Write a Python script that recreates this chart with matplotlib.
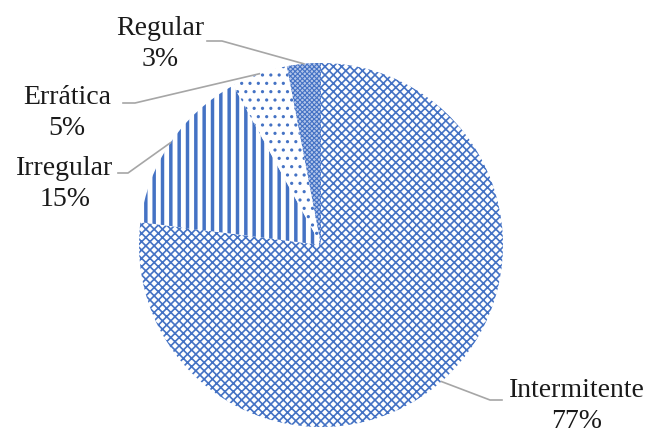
import numpy as np
import matplotlib
matplotlib.use("Agg")
import matplotlib.pyplot as plt

plt.rcParams['font.family'] = ['Liberation Serif', 'DejaVu Serif']

categorias = ['Intermitente', 'Irregular', 'Errática', 'Regular']
valores = [77, 15, 5, 3]
hachuras = ['xxxx', '||', '..', 'xxxxxxx']
espessuras = [1.2, 2.5, 1.1, 0.8]
azul = '#4472C4'

# layout in pixels (reference 652x434)
W, H = 652, 434
cx, cy, r = 321, 245, 182

def px(x, y):
    return (x - cx) / r, (cy - y) / r

fig = plt.figure(figsize=(W / 100, H / 100), dpi=100)
ax = fig.add_axes([0, 0, 1, 1])

wedges, _ = ax.pie(valores, startangle=90, counterclock=False, radius=1,
                   wedgeprops=dict(linewidth=0))
for w, h, lw in zip(wedges, hachuras, espessuras):
    w.set_facecolor('white')
    w.set_edgecolor(azul)
    w.set_hatch(h)
    if hasattr(w, 'set_hatch_linewidth'):
        w.set_hatch_linewidth(lw)
wedges[3].set_facecolor('#b4c6ea')

ax.set_xlim(-cx / r, (W - cx) / r)
ax.set_ylim(-(H - cy) / r, cy / r)
ax.set_aspect('equal')
ax.axis('off')

# label positions (text centre, pixels) and leader-line anchor points
textos = {
    'Intermitente': (577, 406),
    'Irregular': (65, 184),
    'Errática': (67, 113),
    'Regular': (160, 44),
}
ancoras = {
    'Intermitente': [(502, 400), (490, 400)],
    'Irregular': [(118, 173), (128, 173)],
    'Errática': [(123, 103), (135, 103)],
    'Regular': [(207, 41), (222, 41)],
}

for w, nome, v in zip(wedges, categorias, valores):
    ang = np.deg2rad((w.theta1 + w.theta2) / 2)
    ex, ey = np.cos(ang), np.sin(ang)
    pts = [px(*p) for p in ancoras[nome]] + [(ex, ey)]
    ax.plot([p[0] for p in pts], [p[1] for p in pts], color='#a6a6a6', lw=1.2)
    tx, ty = px(*textos[nome])
    ax.text(tx, ty, f"{nome}\n{v}%", ha='center', va='center', fontsize=20,
            linespacing=1.3, color='#1a1a1a')

fig.savefig('out.png', dpi=100)
